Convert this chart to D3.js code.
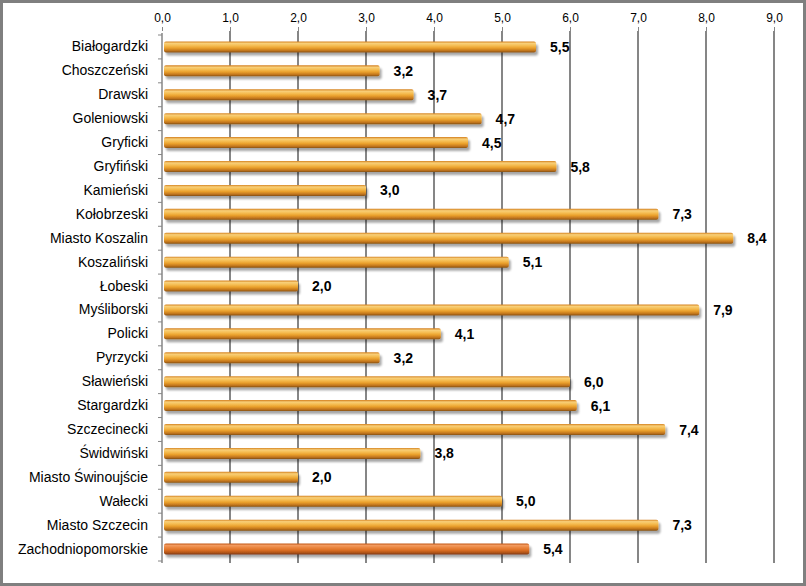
<!DOCTYPE html>
<html><head><meta charset="utf-8">
<script src="https://cdn.jsdelivr.net/npm/d3@7"></script>
<style>body{margin:0;background:#fff}svg{display:block}</style>
</head><body>
<script>
const categories = ["Białogardzki","Choszczeński","Drawski","Goleniowski","Gryficki","Gryfiński","Kamieński","Kołobrzeski","Miasto Koszalin","Koszaliński","Łobeski","Myśliborski","Policki","Pyrzycki","Sławieński","Stargardzki","Szczecinecki","Świdwiński","Miasto Świnoujście","Wałecki","Miasto Szczecin","Zachodniopomorskie"];
const values = [5.5,3.2,3.7,4.7,4.5,5.8,3.0,7.3,8.4,5.1,2.0,7.9,4.1,3.2,6.0,6.1,7.4,3.8,2.0,5.0,7.3,5.4];
const tickValues = [0,1,2,3,4,5,6,7,8,9];

const W = 806, H = 586;
const svg = d3.select("body").append("svg").attr("width", W).attr("height", H);
const defs = svg.append("defs");
function grad(id, stops){
  const g = defs.append("linearGradient").attr("id", id).attr("x1",0).attr("y1",0).attr("x2",0).attr("y2",1);
  stops.forEach(s => g.append("stop").attr("offset", s[0]).attr("stop-color", s[1]));
}
grad("gOr", [[0,"#d4811f"],[0.18,"#f8cf78"],[0.38,"#f5bd52"],[0.6,"#eaa02c"],[0.85,"#bf731c"],[1,"#845012"]]);
grad("gDk", [[0,"#c45a1a"],[0.18,"#f29a5e"],[0.38,"#ea843e"],[0.6,"#dc6f22"],[0.85,"#ad5218"],[1,"#76330e"]]);
const sf = defs.append("filter").attr("id","sh").attr("x","-5%").attr("y","-50%").attr("width","110%").attr("height","250%");
sf.append("feGaussianBlur").attr("in","SourceAlpha").attr("stdDeviation",1.2);
sf.append("feOffset").attr("dx",1.5).attr("dy",2.5).attr("result","b");
sf.append("feComponentTransfer").append("feFuncA").attr("type","linear").attr("slope",0.35);
const fm = sf.append("feMerge"); fm.append("feMergeNode"); fm.append("feMergeNode").attr("in","SourceGraphic");

svg.append("rect").attr("x",1.5).attr("y",1.5).attr("width",W-3).attr("height",H-3)
  .attr("fill","#fff").attr("stroke","#7f7f7f").attr("stroke-width",3);

const x = d3.scaleLinear().domain([0,9]).range([162,774]);
const yb = d3.scaleBand().domain(categories).range([35,561]);

// gridlines
svg.append("g").selectAll("line").data(tickValues.slice(1)).join("line")
  .attr("x1", d=>x(d)).attr("x2", d=>x(d)).attr("y1", 31).attr("y2", 563)
  .attr("stroke","#868686").attr("stroke-width",2);

// top axis labels
const ax = svg.append("g").attr("transform","translate(0,31)")
  .call(d3.axisTop(x).tickValues(tickValues).tickSize(4).tickPadding(5).tickFormat(d => d3.format(".1f")(d).replace(".",",")));
ax.select(".domain").remove();
ax.selectAll("line").attr("stroke","#868686").attr("stroke-width",1);
ax.selectAll("text").attr("font-family","Liberation Sans, Arial, sans-serif").attr("font-size",12).attr("fill","#000");

// left axis
const ay = svg.append("g").attr("transform","translate(162,0)")
  .call(d3.axisLeft(yb).tickSize(0).tickPadding(14));
ay.select(".domain").attr("stroke","#868686").attr("stroke-width",1.5).attr("d","M0,33V563");
ay.selectAll("text").attr("font-family","Liberation Sans, Arial, sans-serif").attr("font-size",14).attr("fill","#000");
svg.append("g").selectAll("line").data(categories.concat(["_end"])).join("line")
  .attr("x1",158).attr("x2",162)
  .attr("y1",(d,i)=> 35 + i*yb.step()).attr("y2",(d,i)=> 35 + i*yb.step())
  .attr("stroke","#868686");

// bars
const barH = 11;
svg.append("g").selectAll("rect").data(values).join("rect")
  .attr("x", x(0)+2)
  .attr("y", (d,i)=> yb(categories[i]) + yb.step()/2 - barH/2)
  .attr("width", d=> x(d)-x(0)-2)
  .attr("height", barH)
  .attr("rx", 2)
  .attr("fill", (d,i)=> i===categories.length-1 ? "url(#gDk)" : "url(#gOr)")
  .attr("filter","url(#sh)");

// value labels
svg.append("g").selectAll("text").data(values).join("text")
  .attr("x", d=> x(d)+14)
  .attr("y", (d,i)=> yb(categories[i]) + yb.step()/2 + 5)
  .attr("font-family","Liberation Sans, Arial, sans-serif").attr("font-size",14).attr("font-weight","bold")
  .text(d=> d3.format(".1f")(d).replace(".",","));
</script>
</body></html>
